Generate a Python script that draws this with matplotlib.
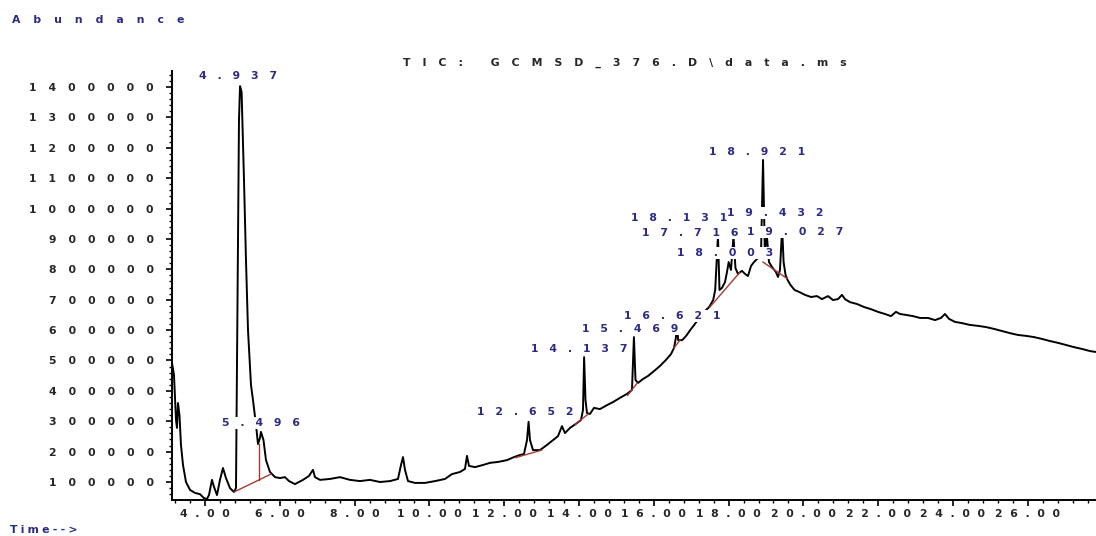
import matplotlib
matplotlib.use("Agg")
import matplotlib.pyplot as plt
import numpy as np
from matplotlib.ticker import MultipleLocator, FixedLocator, FixedFormatter

# ---------------- data ----------------
time_min = [
    3.118, 3.171, 3.225, 3.251, 3.278, 3.318, 3.358, 3.412, 3.492, 3.599,
    3.733, 3.866, 3.973, 4.053, 4.107, 4.187, 4.241, 4.321, 4.401, 4.481,
    4.561, 4.668, 4.775, 4.829, 4.869, 4.909, 4.937, 4.979, 5.043, 5.096,
    5.150, 5.230, 5.283, 5.364, 5.417, 5.471, 5.496, 5.564, 5.631, 5.738,
    5.872, 6.005, 6.139, 6.246, 6.406, 6.620, 6.781, 6.888, 6.941, 7.075,
    7.342, 7.610, 7.877, 8.144, 8.412, 8.679, 8.947, 9.160, 9.241, 9.294,
    9.348, 9.428, 9.615, 9.882, 10.150, 10.417, 10.604, 10.818, 10.952, 11.005,
    11.059, 11.219, 11.433, 11.620, 11.834, 12.075, 12.262, 12.422, 12.529, 12.610,
    12.652, 12.690, 12.770, 12.957, 13.144, 13.305, 13.439, 13.545, 13.626, 13.759,
    13.947, 14.053, 14.107, 14.137, 14.174, 14.214, 14.294, 14.401, 14.561, 14.749,
    14.909, 15.096, 15.283, 15.417, 15.469, 15.511, 15.578, 15.711, 15.845, 16.005,
    16.166, 16.326, 16.460, 16.540, 16.590, 16.621, 16.652, 16.759, 16.866, 16.973,
    17.080, 17.214, 17.348, 17.481, 17.588, 17.642, 17.716, 17.757, 17.824, 17.904,
    17.957, 18.003, 18.064, 18.131, 18.184, 18.251, 18.358, 18.439, 18.519, 18.599,
    18.679, 18.786, 18.866, 18.921, 18.968, 19.027, 19.080, 19.160, 19.267, 19.321,
    19.374, 19.432, 19.471, 19.524, 19.578, 19.658, 19.765, 19.898, 20.043, 20.203,
    20.364, 20.497, 20.658, 20.791, 20.925, 21.032, 21.112, 21.246, 21.433, 21.620,
    21.807, 21.995, 22.182, 22.342, 22.476, 22.583, 22.743, 22.930, 23.118, 23.332,
    23.519, 23.679, 23.786, 23.893, 24.053, 24.241, 24.455, 24.668, 24.882, 25.096,
    25.310, 25.524, 25.738, 25.952, 26.166, 26.380, 26.594, 26.807, 27.021, 27.235,
    27.449, 27.663, 27.824,
]
abundance = [
    492000, 452000, 304000, 278000, 360000, 320000, 222000, 156000, 100000, 74000,
    64000, 60000, 47000, 44000, 57000, 107000, 84000, 57000, 107000, 146000,
    113000, 80000, 67000, 80000, 699000, 1292000, 1403000, 1384000, 1094000, 831000,
    600000, 419000, 370000, 288000, 225000, 245000, 265000, 238000, 172000, 133000,
    116000, 113000, 116000, 103000, 93000, 107000, 120000, 140000, 116000, 107000,
    110000, 116000, 107000, 103000, 107000, 100000, 103000, 110000, 156000, 182000,
    140000, 103000, 97000, 97000, 103000, 110000, 126000, 133000, 143000, 186000,
    153000, 149000, 156000, 163000, 166000, 172000, 182000, 189000, 192000, 238000,
    298000, 238000, 205000, 205000, 222000, 238000, 251000, 284000, 261000, 278000,
    294000, 304000, 337000, 511000, 370000, 327000, 324000, 344000, 340000, 353000,
    363000, 377000, 390000, 403000, 577000, 436000, 426000, 439000, 449000, 465000,
    482000, 502000, 521000, 541000, 574000, 620000, 567000, 567000, 581000, 600000,
    617000, 640000, 660000, 676000, 699000, 732000, 910000, 732000, 739000, 758000,
    791000, 824000, 798000, 910000, 804000, 785000, 795000, 785000, 778000, 811000,
    824000, 837000, 847000, 1160000, 864000, 906000, 824000, 808000, 791000, 775000,
    798000, 936000, 824000, 781000, 765000, 748000, 732000, 725000, 716000, 709000,
    712000, 702000, 712000, 699000, 702000, 716000, 702000, 692000, 686000, 676000,
    669000, 660000, 653000, 646000, 660000, 653000, 650000, 646000, 640000, 640000,
    633000, 640000, 653000, 637000, 627000, 623000, 617000, 614000, 610000, 604000,
    597000, 590000, 584000, 581000, 577000, 571000, 564000, 558000, 551000, 544000,
    538000, 531000, 528000,
]
assert len(time_min) == len(abundance)

# labelled peaks (drawing order: later ones cover earlier ones)
peak_rt = [4.937, 5.496, 12.652, 14.137, 15.469, 16.621,
           17.716, 19.027, 18.131, 19.432, 18.003, 18.921]
peak_text = ["4.937", "5.496", "12.652", "14.137", "15.469", "16.621",
             "17.716", "19.027", "18.131", "19.432", "18.003", "18.921"]

# integration baselines (start time, start abundance, end time, end abundance)
bl_t0 = [4.775, 12.30, 13.90, 15.30, 16.54, 17.50, 18.92]
bl_a0 = [67000, 180000, 290000, 385000, 541000, 676000, 824000]
bl_t1 = [5.765, 13.00, 14.25, 15.56, 16.70, 18.30, 19.56]
bl_a1 = [126000, 205000, 324000, 426000, 567000, 790000, 770000]
drop_t = [5.450]
drop_a0 = [107000]
drop_a1 = [225000]

xtick_values = [4, 6, 8, 10, 12, 14, 16, 18, 20, 22, 24, 26]
xtick_labels = ["4.00", "6.00", "8.00", "10.00", "12.00", "14.00", "16.00",
                "18.00", "20.00", "22.00", "24.00", "26.00"]
ytick_values = [100000, 200000, 300000, 400000, 500000, 600000, 700000,
                800000, 900000, 1000000, 1100000, 1200000, 1300000, 1400000]
ytick_labels = [str(v) for v in ytick_values]

title_text = "TIC: GCMSD_376.D\\data.ms"
ylabel_text = "Abundance"
xlabel_text = "Time-->"

# ---------------- layout / style ----------------
W, H = 1096, 536
PX = 72.0 / 100.0  # points per pixel
label_offsets_px = [(-2, 10), (0, 9), (-3, 10), (-5, 8), (-4, 8), (-5, 8),
                    (-28, 3), (28, 5), (-54, 18), (-7, 15), (-4, 9), (-6, 8)]
BLUE = "#2b2b86"
DARK = "#262626"
RED = "#a33a35"
EM = "\u2003"
THIN = "\u2009"
HAIR = "\u200a"
XSEP = "\u2002\u2009"
FS = 7.8
WEIGHT = "bold"


def spaced(s, sep=EM):
    return sep.join(s)


plt.rcParams["font.family"] = ["DejaVu Sans"]
fig = plt.figure(figsize=(W / 100, H / 100), dpi=100)
fig.patch.set_facecolor("white")
ax = fig.add_axes([172 / W, (H - 500) / H, (W - 172) / W, (500 - 71) / H])
ax.set_facecolor("white")

ax.plot(time_min, abundance, color="black", lw=1.4, zorder=2, solid_joinstyle="round")

for t0, a0, t1, a1 in zip(bl_t0, bl_a0, bl_t1, bl_a1):
    ax.plot([t0, t1], [a0, a1], color=RED, lw=1.0, zorder=2.5)
for t, a0, a1 in zip(drop_t, drop_a0, drop_a1):
    ax.plot([t, t], [a0, a1], color=RED, lw=1.0, zorder=2.5)

apex = np.interp(peak_rt, time_min, abundance)
for i, (rt, a, txt, (dx, dy)) in enumerate(zip(peak_rt, apex, peak_text, label_offsets_px)):
    ax.annotate(spaced(txt), xy=(rt, a), xytext=(dx * PX, dy * PX),
                textcoords="offset points", ha="center", va="center",
                fontsize=FS, fontweight=WEIGHT, color=BLUE, zorder=5 + i,
                annotation_clip=False,
                bbox=dict(boxstyle="square,pad=0.12", fc="white", ec="none"))

ax.set_xlim(3.118, 27.824)
ax.set_ylim(40750, 1452900)

for s in ("top", "right"):
    ax.spines[s].set_visible(False)
for s in ("left", "bottom"):
    ax.spines[s].set_linewidth(1.4)
    ax.spines[s].set_color("black")

ax.xaxis.set_major_locator(FixedLocator(xtick_values))
ax.xaxis.set_major_formatter(FixedFormatter([spaced(l, XSEP) for l in xtick_labels]))
ax.xaxis.set_minor_locator(MultipleLocator(0.4))
ax.yaxis.set_major_locator(FixedLocator(ytick_values))
ax.yaxis.set_major_formatter(FixedFormatter([spaced(l, EM + HAIR) for l in ytick_labels]))
ax.yaxis.set_minor_locator(MultipleLocator(20000))

ax.tick_params(axis="both", which="major", direction="out", length=4.5, width=1.2,
               colors="black", labelcolor=DARK, labelsize=FS)
ax.tick_params(axis="both", which="minor", direction="out", length=2.3, width=1.0,
               colors="black")
ax.tick_params(axis="x", which="major", pad=2)
ax.tick_params(axis="y", which="major", pad=8.5)
for lab in ax.get_xticklabels() + ax.get_yticklabels():
    lab.set_fontweight(WEIGHT)

fig.text(12 / W, 1 - 20 / H, spaced(ylabel_text, EM + THIN), ha="left", va="center",
         fontsize=FS, fontweight=WEIGHT, color=BLUE)
fig.text(625 / W, 1 - 63 / H, spaced(title_text, EM + HAIR), ha="center", va="center",
         fontsize=FS, fontweight=WEIGHT, color=DARK)
fig.text(10 / W, 1 - 530 / H, spaced(xlabel_text, THIN + HAIR), ha="left", va="center",
         fontsize=FS, fontweight=WEIGHT, color=BLUE)

fig.savefig("out.png", dpi=100, facecolor="white")
